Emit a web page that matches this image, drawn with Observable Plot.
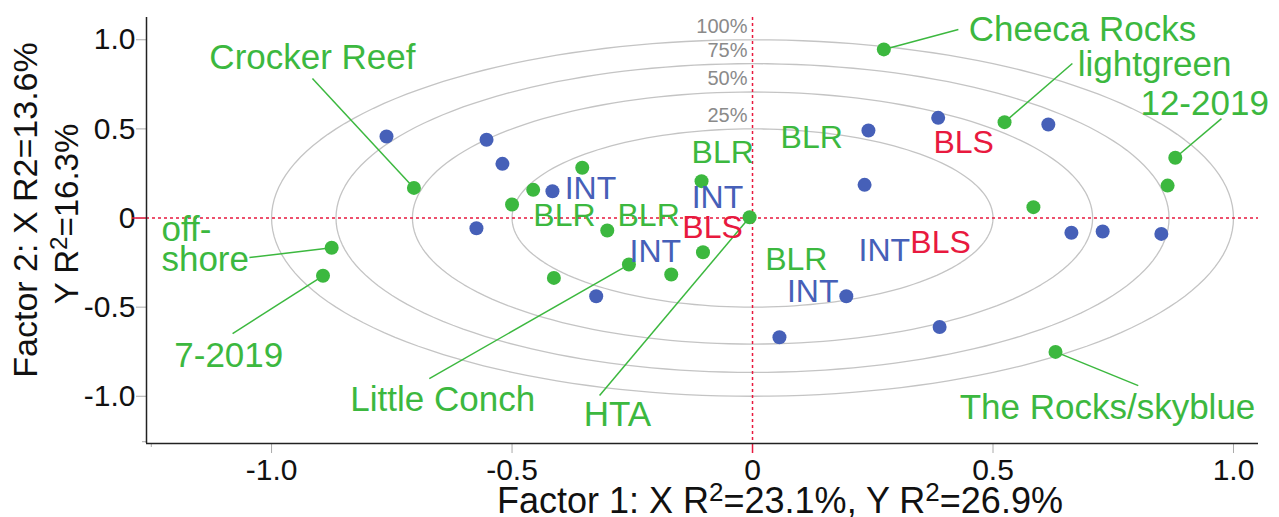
<!DOCTYPE html>
<html><head><meta charset="utf-8">
<script src="https://cdn.jsdelivr.net/npm/d3@7"></script>
<script src="https://cdn.jsdelivr.net/npm/@observablehq/plot@0.6"></script>
<style>body{margin:0;background:#fff}svg{display:block}</style>
</head><body><div id="chart"></div>
<script>
// ---- data ----
const blueX = [-0.761,-0.553,-0.520,-0.416,-0.574,-0.325,0.056,0.195,0.241,0.386,0.615,0.233,0.663,0.728,0.850,0.389];
const blueY = [0.457,0.439,0.304,0.150,-0.057,-0.439,-0.669,-0.439,0.491,0.562,0.525,0.186,-0.083,-0.076,-0.089,-0.611];
const greenX = [-0.704,-0.875,-0.893,-0.354,-0.456,-0.500,-0.302,-0.106,-0.006,-0.103,-0.257,-0.413,-0.169,0.273,0.524,0.879,0.863,0.584,0.630];
const greenY = [0.169,-0.167,-0.324,0.282,0.158,0.076,-0.070,0.207,0.004,-0.192,-0.261,-0.336,-0.317,0.946,0.538,0.338,0.182,0.061,-0.751];

const calloutText = ["Crocker Reef","Cheeca Rocks","lightgreen","12-2019","off-\nshore","7-2019","Little Conch","HTA","The Rocks/skyblue"];
const calloutX = [-0.915,0.686,0.836,0.940,-1.229,-1.089,-0.644,-0.281,0.738];
const calloutY = [0.901,1.058,0.862,0.642,-0.160,-0.771,-1.018,-1.103,-1.063];
const calloutAnchor = ["middle","middle","middle","middle","start","middle","middle","middle","middle"];
const leaderX = [-0.915,0.428,0.665,0.975,-1.046,-1.081,-0.672,-0.318,0.802];
const leaderY = [0.783,1.058,0.867,0.558,-0.222,-0.648,-0.901,-0.996,-0.940];
const leaderPoint = [0,13,14,15,1,2,10,8,18]; // index into green points

const groupText = ["BLR","BLS","BLR","INT","INT","BLR","BLR","BLS","INT","BLR","INT","BLS","INT"];
const groupX = [0.123,0.439,-0.062,-0.337,-0.073,-0.391,-0.216,-0.083,-0.202,0.091,0.274,0.391,0.125];
const groupY = [0.452,0.424,0.368,0.166,0.115,0.014,0.014,-0.053,-0.188,-0.233,-0.182,-0.137,-0.412];

const levelLabels = ["25%","50%","75%","100%"];
const levelShares = [0.25,0.50,0.75,1.00];

const xTicks = [-1.0,-0.5,0,0.5,1.0];
const yTicks = [1.0,0.5,0,-0.5,-1.0];
const xDomain = [-1.26, 1.052];
const yDomain = [-1.265, 1.125];

const xTitle = ["Factor 1: X R","2","=23.1%, Y R","2","=26.9%"];
const yTitle1 = "Factor 2: X R2=13.6%";
const yTitle2 = ["Y R","2","=16.3%"];

// ---- colours ----
const BLUE = "#4660b8", GREEN = "#3cb83f", RED = "#e8193e", GRAY = "#8a8a8a";
const colorOf = {BLR: GREEN, BLS: RED, INT: BLUE};

// ---- derived tables ----
const blue = blueX.map((x,i)=>({x, y: blueY[i]}));
const green = greenX.map((x,i)=>({x, y: greenY[i]}));
const callouts = calloutText.map((t,i)=>({t, x: calloutX[i], y: calloutY[i], a: calloutAnchor[i],
  lx: leaderX[i], ly: leaderY[i], px: greenX[leaderPoint[i]], py: greenY[leaderPoint[i]]}));
const groups = groupText.map((t,i)=>({t, x: groupX[i], y: groupY[i]}));
const levels = levelLabels.map((l,i)=>({l, r: Math.sqrt(levelShares[i])}));
const rings = levels.flatMap(d => d3.range(0, 361, 2).map(a => ({l: d.l, x: d.r*Math.cos(a*Math.PI/180), y: d.r*Math.sin(a*Math.PI/180)})));

const fmt = d => d === 0 ? "0" : d.toFixed(1);

const chart = Plot.plot({
  width: 1279, height: 517,
  marginLeft: 146, marginRight: 21, marginTop: 17, marginBottom: 74,
  x: {domain: xDomain, axis: null},
  y: {domain: yDomain, axis: null},
  style: {fontFamily: "'Liberation Sans', Arial, sans-serif", background: "#fff", color: "#111"},
  marks: [
    Plot.line(rings, {x: "x", y: "y", z: "l", stroke: "#c4c4c4", strokeWidth: 1.3}),
    Plot.text(levels, {x: 0, y: "r", text: "l", textAnchor: "end", dx: -5, dy: -13, fontSize: 20, fill: GRAY}),
    Plot.ruleX([0], {stroke: RED, strokeWidth: 1.5, strokeDasharray: "3,3"}),
    Plot.ruleY([0], {stroke: RED, strokeWidth: 1.5, strokeDasharray: "3,3"}),
    Plot.axisX({ticks: xTicks, tickFormat: fmt, tickSize: 10, tickPadding: 5, fontSize: 30, stroke: "#aaa", fill: "#111", anchor: "bottom", label: null}),
    Plot.axisX({ticks: [0], tickFormat: () => "", tickSize: 10, stroke: RED, strokeWidth: 1.5, anchor: "bottom", label: null}),
    Plot.axisX({ticks: [xDomain[0] + 0.01], tickFormat: () => "", tickSize: 4, stroke: "#aaa", anchor: "bottom", label: null}),
    Plot.axisY({ticks: yTicks, tickFormat: fmt, tickSize: 10, tickPadding: 1, fontSize: 30, stroke: "#aaa", fill: "#111", anchor: "left", label: null}),
    Plot.axisY({ticks: [0], tickFormat: () => "", tickSize: 14, stroke: RED, strokeWidth: 1.5, anchor: "left", label: null}),
    Plot.axisY({ticks: [yDomain[0] + 0.01], tickFormat: () => "", tickSize: 4, stroke: "#aaa", anchor: "left", label: null}),
    Plot.ruleX([xDomain[0]], {stroke: "#222", strokeWidth: 1.5}),
    Plot.ruleY([yDomain[0]], {stroke: "#222", strokeWidth: 1.5}),
    Plot.link(callouts, {x1: "lx", y1: "ly", x2: "px", y2: "py", stroke: GREEN, strokeWidth: 1.5}),
    Plot.dot(blue, {x: "x", y: "y", r: 7, fill: BLUE}),
    Plot.dot(green, {x: "x", y: "y", r: 7, fill: GREEN}),
    Plot.text(groups, {x: "x", y: "y", text: "t", fontSize: 32, fill: d => colorOf[d.t]}),
    Plot.text(callouts.filter(d => d.a === "middle"), {x: "x", y: "y", text: "t", textAnchor: "middle", fontSize: 35, fill: GREEN}),
    Plot.text(callouts.filter(d => d.a === "start"), {x: "x", y: "y", text: "t", textAnchor: "start", fontSize: 35, lineHeight: 0.86, fill: GREEN})
  ]
});

const svg = d3.select(chart);
function titled(sel, parts, supSize, baseSize) {
  parts.forEach((p, i) => {
    const sup = i % 2 === 1;
    sel.append("tspan").attr("font-size", sup ? supSize : baseSize)
      .attr("dy", sup ? -baseSize*0.33 : (i > 0 ? baseSize*0.33 : 0)).text(p);
  });
}
const xt = svg.append("text").attr("x", 497).attr("y", 513).attr("text-anchor", "start")
  .attr("font-size", 36).attr("fill", "#111");
titled(xt, xTitle, 26, 36);
svg.append("text").attr("transform", "translate(37,210) rotate(-90)").attr("text-anchor", "middle")
  .attr("font-size", 34).attr("fill", "#111").text(yTitle1);
const yt = svg.append("text").attr("transform", "translate(78,214) rotate(-90)").attr("text-anchor", "middle")
  .attr("font-size", 33).attr("fill", "#111");
titled(yt, yTitle2, 24, 33);

document.getElementById("chart").append(chart);
</script></body></html>
